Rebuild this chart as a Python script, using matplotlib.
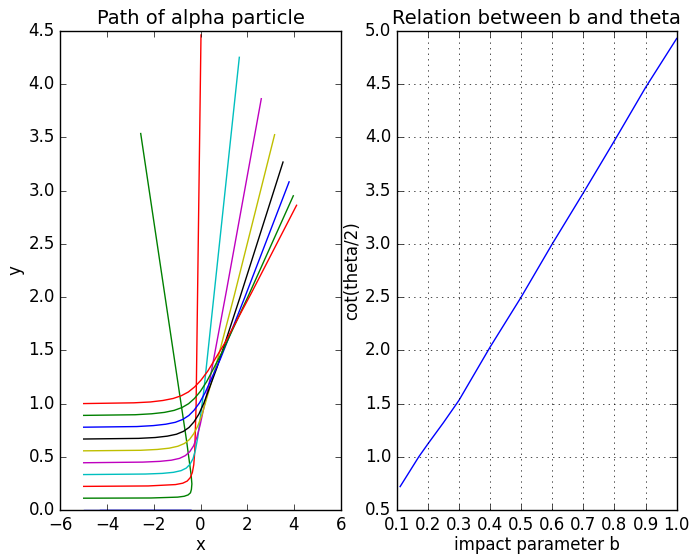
import numpy as np
import matplotlib
matplotlib.use('Agg')
from matplotlib import pyplot as plt

# impact parameters of the alpha particles (start at x = -5, y = b)
impact = [0.0, 0.111, 0.222, 0.333, 0.444, 0.556, 0.667, 0.778, 0.889, 1.0]

# traced paths, one x list and one y list per particle
path_x = [
    [-5.00, -0.40, -4.31],
    [-5.00, -2.12, -0.98, -0.70, -0.53, -0.43, -0.39, -0.37, -0.40, -0.60, -2.56],
    [-5.00, -2.24, -1.07, -0.76, -0.57, -0.44, -0.35, -0.29, -0.25, -0.19, 0.02],
    [-5.00, -2.36, -1.64, -1.16, -0.83, -0.61, -0.45, -0.32, -0.22, -0.12, 0.14, 1.66],
    [-5.00, -2.47, -1.75, -1.25, -0.90, -0.65, -0.46, -0.30, -0.16, -0.02, 0.38, 1.11, 2.60],
    [-5.00, -2.57, -1.85, -1.34, -0.97, -0.69, -0.47, -0.29, -0.11, 0.07, 0.56, 1.45, 3.17],
    [-5.00, -2.65, -1.94, -1.42, -1.03, -0.73, -0.49, -0.28, -0.07, 0.14, 0.71, 1.69, 3.53],
    [-5.00, -2.73, -2.02, -1.49, -1.08, -0.76, -0.50, -0.27, -0.04, 0.20, 0.84, 1.89, 3.79],
    [-5.00, -2.80, -2.09, -1.55, -1.13, -0.79, -0.51, -0.26, -0.01, 0.26, 0.94, 2.04, 3.97],
    [-5.00, -2.86, -2.15, -1.61, -1.17, -0.82, -0.52, -0.25, 0.02, 0.31, 1.04, 2.17, 4.11],
]
path_y = [
    [0.0, 0.0, 0.0],
    [0.111, 0.113, 0.121, 0.129, 0.142, 0.162, 0.194, 0.245, 0.326, 0.655, 3.537],
    [0.222, 0.226, 0.239, 0.252, 0.272, 0.304, 0.352, 0.425, 0.539, 0.979, 4.463],
    [0.333, 0.338, 0.344, 0.354, 0.370, 0.394, 0.430, 0.483, 0.562, 0.681, 1.120, 4.253],
    [0.444, 0.450, 0.457, 0.468, 0.485, 0.511, 0.548, 0.602, 0.681, 0.796, 1.203, 2.061, 3.864],
    [0.556, 0.561, 0.569, 0.581, 0.599, 0.625, 0.663, 0.717, 0.793, 0.901, 1.273, 2.021, 3.526],
    [0.667, 0.673, 0.681, 0.694, 0.712, 0.739, 0.776, 0.828, 0.901, 1.003, 1.342, 1.999, 3.269],
    [0.778, 0.784, 0.793, 0.806, 0.824, 0.851, 0.888, 0.939, 1.008, 1.104, 1.414, 1.996, 3.083],
    [0.889, 0.895, 0.904, 0.917, 0.936, 0.963, 0.999, 1.048, 1.114, 1.205, 1.490, 2.009, 2.952],
    [1.000, 1.007, 1.015, 1.029, 1.048, 1.074, 1.109, 1.157, 1.220, 1.305, 1.569, 2.036, 2.863],
]

# cot(theta/2) against impact parameter b
b_vals = [0.111, 0.171, 0.2, 0.25, 0.3, 0.4, 0.5, 0.6, 0.7, 0.8, 0.9, 1.0]
cot_half = [0.72, 1.0, 1.12, 1.32, 1.53, 2.03, 2.5, 3.0, 3.48, 3.97, 4.47, 4.93]

plt.style.use('classic')
fig = plt.figure(figsize=(6.91, 5.54), dpi=100, facecolor='white')

# 左图: 粒子轨迹
ax1 = fig.add_axes([0.0873, 0.0794, 0.4058, 0.8646])
for xs, ys in zip(path_x, path_y):
    ax1.plot(xs, ys)
ax1.set_xlim(-6, 6)
ax1.set_ylim(0, 4.5)
ax1.set_xticks(np.arange(-6, 7, 2))
ax1.set_yticks(np.arange(0, 4.51, 0.5))
ax1.set_xlabel('x', labelpad=1.4)
ax1.set_ylabel('y', labelpad=2.5)
ax1.set_title('Path of alpha particle', fontsize=14)

# 右图: b 与 theta 的关系
ax2 = fig.add_axes([0.5741, 0.0794, 0.4052, 0.8646])
ax2.plot(b_vals, cot_half, 'b-')
ax2.set_xlim(0.1, 1.0)
ax2.set_ylim(0.5, 5.0)
ax2.set_xticks(np.arange(0.1, 1.01, 0.1))
ax2.set_yticks(np.arange(0.5, 5.01, 0.5))
ax2.grid(True)
ax2.set_xlabel('impact parameter b', labelpad=1.4)
ax2.set_ylabel('cot(theta/2)', labelpad=2.5)
ax2.set_title('Relation between b and theta', fontsize=14)

fig.savefig('out.png', facecolor='white')
